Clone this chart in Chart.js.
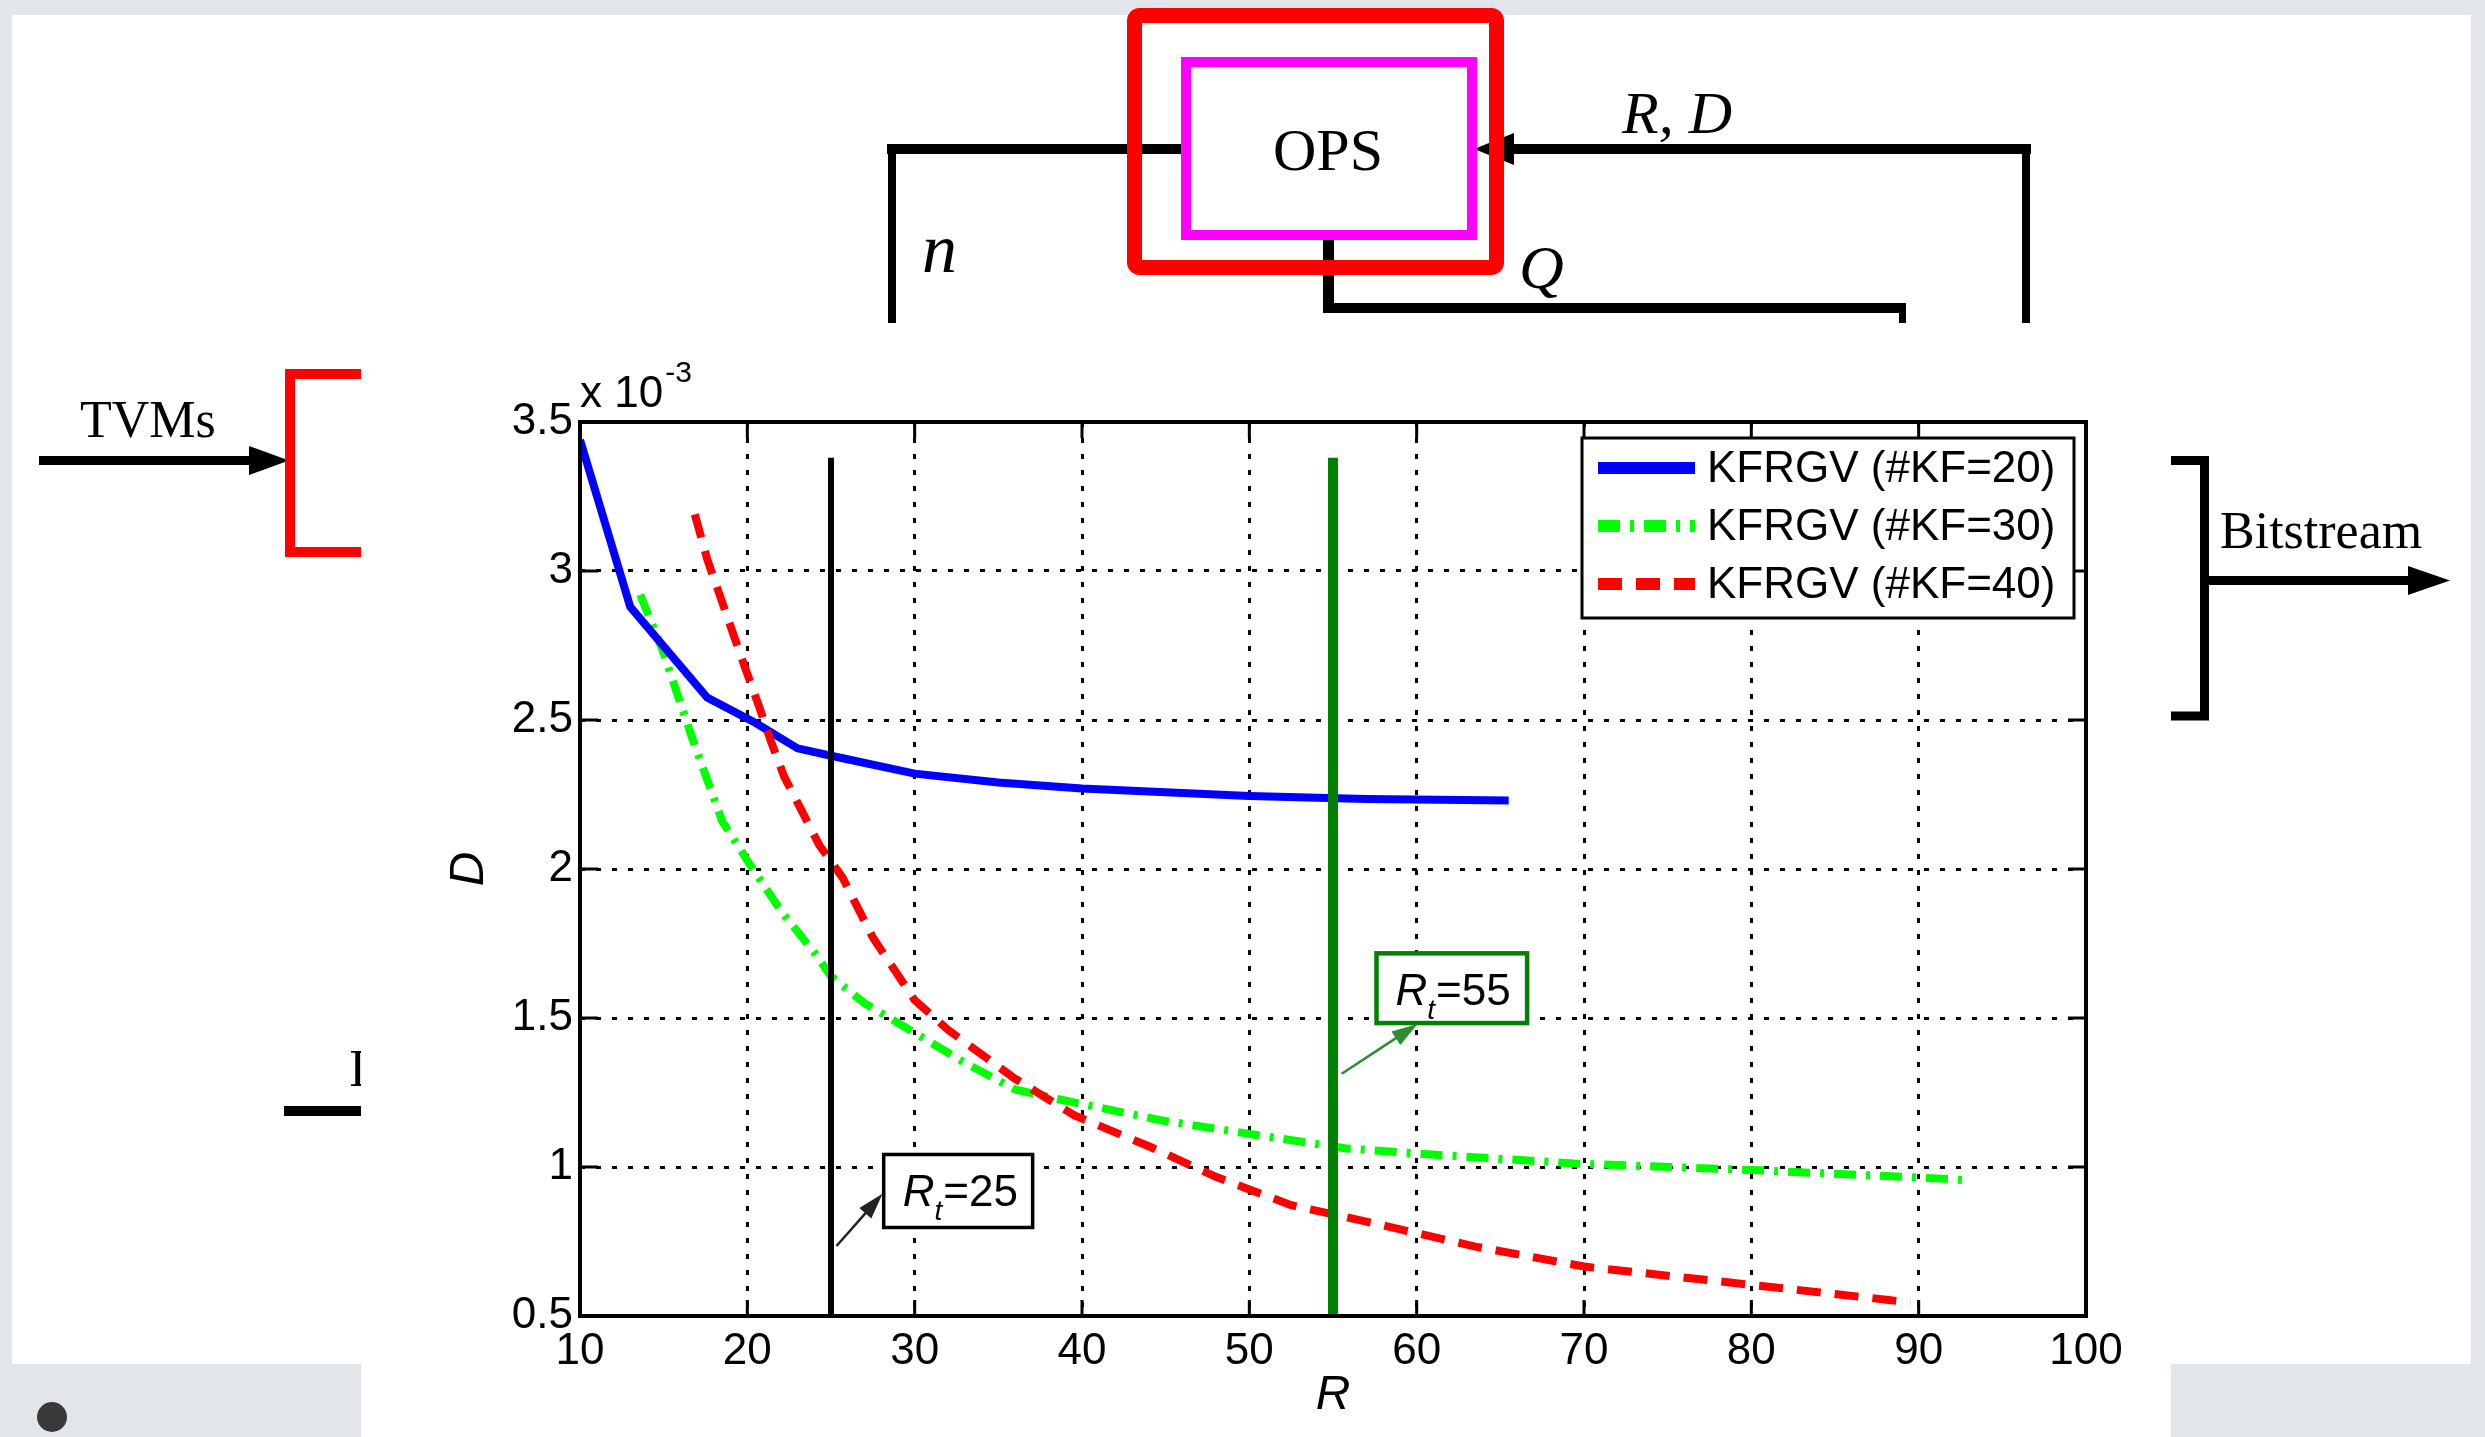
<!DOCTYPE html>
<html>
<head>
<meta charset="utf-8">
<script src="https://cdn.jsdelivr.net/npm/chart.js@4.4.0/dist/chart.umd.min.js"></script>
<style>
  html, body { margin: 0; padding: 0; }
  body { width: 2485px; height: 1437px; position: relative; overflow: hidden; background: #e2e5ea; }
  #diagram { position: absolute; left: 0; top: 0; }
  #plot { position: absolute; left: 361px; top: 323px; width: 1810px; height: 1114px; background: #fff; }
  #plot canvas { display: block; }
</style>
</head>
<body>
<svg id="diagram" width="2485" height="1437" font-family="'Liberation Serif', 'Times New Roman', serif">
  <rect x="12" y="15" width="2459" height="1349" fill="#fff"/>
  <!-- feedback loop round OPS -->
  <g fill="#000">
    <rect x="887" y="144" width="294" height="10"/>
    <rect x="888" y="144" width="8" height="179"/>
    <rect x="1490" y="144" width="541" height="10"/>
    <polygon points="1474,149 1514,133 1514,165"/>
    <rect x="2022" y="144" width="8" height="179"/>
    <rect x="1323" y="240" width="11" height="73"/>
    <rect x="1323" y="303" width="583" height="10"/>
    <rect x="1899" y="303" width="7" height="20"/>
  </g>
  <rect x="1134.5" y="15.5" width="362" height="252" rx="5" fill="none" stroke="#ff0000" stroke-width="15"/>
  <rect x="1186" y="62" width="286" height="173" fill="none" stroke="#ff00ff" stroke-width="10"/>
  <text x="1328" y="170" font-size="60" text-anchor="middle">OPS</text>
  <text x="922" y="272" font-size="70" font-style="italic">n</text>
  <text x="1519" y="288" font-size="62" font-style="italic">Q</text>
  <text x="1622" y="133" font-size="60" font-style="italic">R, D</text>
  <!-- input side -->
  <text x="80" y="437" font-size="52">TVMs</text>
  <rect x="39" y="456" width="212" height="9" fill="#000"/>
  <polygon points="249,446 289,460.5 249,475" fill="#000"/>
  <path d="M361,374 H290 V552 H361" fill="none" stroke="#ff0000" stroke-width="10"/>
  <text x="349" y="1086" font-size="52">I</text>
  <rect x="284" y="1106" width="77" height="10" fill="#000"/>
  <!-- output side -->
  <path d="M2171,460.5 H2204.5 V716 H2171" fill="none" stroke="#000" stroke-width="9"/>
  <rect x="2209" y="576" width="203" height="9" fill="#000"/>
  <polygon points="2408,566 2450,580.5 2408,595" fill="#000"/>
  <text x="2220" y="548" font-size="52">Bitstream</text>
  <circle cx="52" cy="1417" r="15" fill="#3a3a3a"/>
</svg>
<div id="plot"><canvas id="chart" width="1810" height="1114"></canvas></div>
<script>
// axis ticks
const xTicks = [10, 20, 30, 40, 50, 60, 70, 80, 90, 100];
const yTicks = [0.5, 1, 1.5, 2, 2.5, 3, 3.5];   // x 10^-3

// KFRGV (#KF=20)
const blueR = [10, 13, 17.6, 20.5, 23, 25, 30, 35, 40, 50, 57, 65.5];
const blueD = [3.44, 2.88, 2.575, 2.49, 2.405, 2.38, 2.32, 2.29, 2.27, 2.245, 2.235, 2.23];

// KFRGV (#KF=30)
const greenR = [13.6, 14.9, 15.8, 16.7, 17.6, 18.5, 20.1, 22, 24, 25, 27, 30, 33, 36, 38.9, 44.7, 49.9, 55.8, 60.9, 69.4, 80.4, 91.4, 93];
const greenD = [2.92, 2.74, 2.59, 2.44, 2.30, 2.16, 2.02, 1.86, 1.72, 1.64, 1.55, 1.45, 1.35, 1.26, 1.224, 1.157, 1.112, 1.062, 1.042, 1.012, 0.989, 0.961, 0.955];

// KFRGV (#KF=40)
const redR = [16.86, 17.6, 19.15, 19.9, 20.7, 21.4, 22.2, 23.3, 24.3, 25.7, 27.5, 30, 32, 35.9, 39.55, 44.1, 48, 52.5, 57.06, 63.5, 70, 79.1, 88.2, 89.5];
const redD = [3.19, 3.04, 2.79, 2.67, 2.546, 2.43, 2.31, 2.19, 2.08, 1.97, 1.77, 1.56, 1.46, 1.30, 1.173, 1.067, 0.967, 0.872, 0.816, 0.733, 0.666, 0.61, 0.554, 0.545];

// threshold rates R_t
const markerR = [25, 55];
const markerD = [0.5, 3.38];

const SANS = '"Liberation Sans", Arial, sans-serif';

function pts(xs, ys) { return xs.map((x, i) => ({ x: x, y: ys[i] })); }

// text boxes with arrows, in data units
const notes = [
  { num: '25', box: [28.15, 1.042, 37.05, 0.797], tail: [25.33, 0.735], tip: [28.08, 0.91], color: '#000', arrow: '#222' },
  { num: '55', box: [57.6, 1.717, 66.6, 1.483], tail: [55.52, 1.313], tip: [60.06, 1.48], color: '#008000', arrow: '#2e8b2e' }
];

function arrow(ctx, x0, y0, x1, y1, color) {
  const ang = Math.atan2(y1 - y0, x1 - x0);
  ctx.strokeStyle = color; ctx.fillStyle = color; ctx.lineWidth = 2.5; ctx.setLineDash([]);
  ctx.beginPath(); ctx.moveTo(x0, y0); ctx.lineTo(x1 - 20 * Math.cos(ang), y1 - 20 * Math.sin(ang)); ctx.stroke();
  ctx.beginPath();
  ctx.moveTo(x1, y1);
  ctx.lineTo(x1 - 26 * Math.cos(ang) + 8 * Math.sin(ang), y1 - 26 * Math.sin(ang) - 8 * Math.cos(ang));
  ctx.lineTo(x1 - 26 * Math.cos(ang) - 8 * Math.sin(ang), y1 - 26 * Math.sin(ang) + 8 * Math.cos(ang));
  ctx.closePath(); ctx.fill();
}

const frame = {
  id: 'frame',
  afterDraw(chart) {
    const { ctx, chartArea: a, scales: { x, y } } = chart;
    ctx.save();
    ctx.setLineDash([]);
    ctx.strokeStyle = '#000';
    ctx.lineWidth = 3;
    ctx.beginPath();
    x.ticks.forEach(t => {
      const px = x.getPixelForValue(t.value);
      ctx.moveTo(px, a.bottom); ctx.lineTo(px, a.bottom - 16);
      ctx.moveTo(px, a.top); ctx.lineTo(px, a.top + 16);
    });
    y.ticks.forEach(t => {
      const py = y.getPixelForValue(t.value);
      ctx.moveTo(a.left, py); ctx.lineTo(a.left + 18, py);
      ctx.moveTo(a.right, py); ctx.lineTo(a.right - 18, py);
    });
    ctx.stroke();
    ctx.lineWidth = 4;
    ctx.strokeRect(a.left, a.top, a.right - a.left, a.bottom - a.top);

    // exponent of the D axis
    ctx.fillStyle = '#000';
    ctx.textBaseline = 'alphabetic';
    ctx.textAlign = 'left';
    ctx.font = '44px ' + SANS;
    ctx.fillText('x 10', a.left, a.top - 15);
    const w = ctx.measureText('x 10').width;
    ctx.font = '30px ' + SANS;
    ctx.fillText('-3', a.left + w + 2, a.top - 40);

    // annotations
    notes.forEach(n => {
      const bx0 = x.getPixelForValue(n.box[0]), by0 = y.getPixelForValue(n.box[1]);
      const bx1 = x.getPixelForValue(n.box[2]), by1 = y.getPixelForValue(n.box[3]);
      ctx.fillStyle = '#fff';
      ctx.fillRect(bx0, by0, bx1 - bx0, by1 - by0);
      ctx.strokeStyle = n.color; ctx.lineWidth = n.color === '#000' ? 3.5 : 4.5;
      ctx.strokeRect(bx0, by0, bx1 - bx0, by1 - by0);
      ctx.fillStyle = '#000';
      let tx = bx0 + 19; const ty = by0 + 52;
      ctx.font = 'italic 44px ' + SANS; ctx.fillText('R', tx, ty); tx += ctx.measureText('R').width;
      ctx.font = 'italic 28px ' + SANS; ctx.fillText('t', tx, ty + 14); tx += ctx.measureText('t').width + 1;
      ctx.font = '44px ' + SANS; ctx.fillText('=' + n.num, tx, ty);
      arrow(ctx, x.getPixelForValue(n.tail[0]), y.getPixelForValue(n.tail[1]),
            x.getPixelForValue(n.tip[0]), y.getPixelForValue(n.tip[1]), n.arrow);
    });

    // legend box
    const lw = 492, lh = 180;
    const lx = a.right - 12 - lw, ly = a.top + 16;
    ctx.fillStyle = '#fff';
    ctx.fillRect(lx, ly, lw, lh);
    ctx.strokeStyle = '#000'; ctx.lineWidth = 3; ctx.setLineDash([]);
    ctx.strokeRect(lx, ly, lw, lh);
    chart.data.datasets.slice(0, 3).forEach((ds, i) => {
      const ry = ly + 30 + i * 58;
      ctx.strokeStyle = ds.borderColor; ctx.lineWidth = 12; ctx.lineCap = 'butt';
      ctx.setLineDash(ds.borderDash || []);
      ctx.beginPath(); ctx.moveTo(lx + 16, ry); ctx.lineTo(lx + 113, ry); ctx.stroke();
      ctx.setLineDash([]);
      ctx.fillStyle = '#000'; ctx.font = '44px ' + SANS; ctx.textBaseline = 'middle';
      ctx.fillText(ds.label, lx + 125, ry + 2);
    });
    ctx.restore();
  }
};

const line = { showLine: true, pointRadius: 0, pointHoverRadius: 0, tension: 0, fill: false };

new Chart(document.getElementById('chart'), {
  type: 'scatter',
  data: {
    datasets: [
      Object.assign({ label: 'KFRGV (#KF=20)', data: pts(blueR, blueD), borderColor: '#0000ff', borderWidth: 8, order: 3 }, line),
      Object.assign({ label: 'KFRGV (#KF=30)', data: pts(greenR, greenD), borderColor: '#00ff00', borderWidth: 8, borderDash: [22, 10, 4, 10], order: 4 }, line),
      Object.assign({ label: 'KFRGV (#KF=40)', data: pts(redR, redD), borderColor: '#ff0000', borderWidth: 8, borderDash: [24, 14], order: 2 }, line),
      Object.assign({ label: 'R_t=25', data: pts([markerR[0], markerR[0]], markerD), borderColor: '#000000', borderWidth: 6, order: 1 }, line),
      Object.assign({ label: 'R_t=55', data: pts([markerR[1], markerR[1]], markerD), borderColor: '#008000', borderWidth: 10, order: 0 }, line)
    ]
  },
  options: {
    responsive: false,
    animation: false,
    devicePixelRatio: 1,
    layout: { padding: { left: 0, top: 99, right: 85, bottom: 0 } },
    plugins: { legend: { display: false }, tooltip: { enabled: false } },
    scales: {
      x: {
        type: 'linear', min: 10, max: 100,
        afterBuildTicks(s) { s.ticks = xTicks.map(v => ({ value: v })); },
        afterFit(s) { s.height = 121; },
        grid: { color: '#000', lineWidth: 3, drawTicks: false },
        border: { display: false, dash: [5, 11] },
        ticks: { color: '#000', font: { family: SANS, size: 44 }, padding: 9, maxRotation: 0, autoSkip: false, callback: v => String(v) },
        title: { display: true, text: 'R', color: '#000', font: { family: SANS, size: 48, style: 'italic' }, padding: { top: 0, bottom: 13 } }
      },
      y: {
        type: 'linear', min: 0.5, max: 3.5,
        afterBuildTicks(s) { s.ticks = yTicks.map(v => ({ value: v })); },
        afterFit(s) { s.width = 219; },
        grid: { color: '#000', lineWidth: 3, drawTicks: false },
        border: { display: false, dash: [5, 11] },
        ticks: { color: '#000', font: { family: SANS, size: 44 }, padding: 7, autoSkip: false, callback: v => String(v) },
        title: { display: true, text: 'D', color: '#000', font: { family: SANS, size: 48, style: 'italic' }, padding: { top: 80, bottom: 0 } }
      }
    }
  },
  plugins: [frame]
});
</script>
</body>
</html>
